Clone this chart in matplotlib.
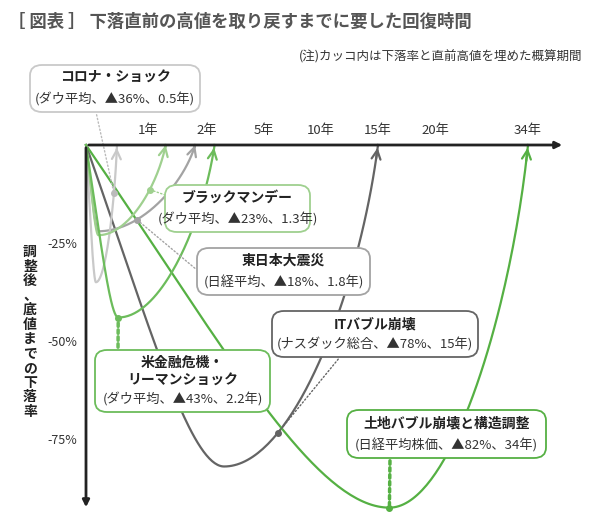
import numpy as np
import matplotlib
matplotlib.use("Agg")
import matplotlib.pyplot as plt
from matplotlib.patches import FancyBboxPatch

plt.rcParams['font.family'] = ['Noto Sans CJK JP', 'DejaVu Sans']

# ---- data ----
names = ["コロナ・ショック", "ブラックマンデー", "東日本大震災", "米金融危機・\nリーマンショック", "ITバブル崩壊", "土地バブル崩壊と構造調整"]
subs = ["(ダウ平均、▲36%、0.5年)", "(ダウ平均、▲23%、1.3年)", "(日経平均、▲18%、1.8年)",
        "(ダウ平均、▲43%、2.2年)", "(ナスダック総合、▲78%、15年)", "(日経平均株価、▲82%、34年)"]
recovery_years = [0.5, 1.3, 1.8, 2.4, 15, 34]
bottom_years = [0.16, 0.2, 0.2, 0.52, 2.9, 16]
drawn_depth = [-35, -23, -22, -44, -82, -92.5]
dot_years = [0.45, 1.03, 0.82, None, 6.2, None]   # marker positions on recovery leg
colors = ["#c9c9c9", "#9fd08f", "#a3a3a3", "#6cbc5b", "#646464", "#55b043"]
tick_years = [1, 2, 5, 10, 15, 20, 34]
tick_labels = ["1年", "2年", "5年", "10年", "15年", "20年", "34年"]
y_ticks = [-25, -50, -75]

# nonlinear axis knots (years -> axis units)
knot_y = np.array([0, 1, 2, 5, 10, 15, 20, 34, 40])
knot_u = np.array([0, 62, 121, 178, 235, 292, 349, 442, 482])
fwd = lambda x: np.interp(x, knot_y, knot_u)
inv = lambda u: np.interp(u, knot_u, knot_y)

W, H = 600, 524
fig = plt.figure(figsize=(6, 5.24), dpi=100)
ax = fig.add_axes([86 / W, 1 - 510 / H, (565 - 86) / W, (510 - 145) / H])
ax.set_xscale('function', functions=(fwd, inv))
ax.set_xlim(0, inv(479))
ax.set_ylim(-93.1, 0)
for s in ax.spines.values():
    s.set_visible(False)
ax.set_facecolor('none')

def bez(p0, p1, p2, p3, n=80):
    t = np.linspace(0, 1, n)[:, None]
    return ((1 - t) ** 3) * p0 + 3 * (1 - t) ** 2 * t * p1 + 3 * (1 - t) * t ** 2 * p2 + t ** 3 * p3

ascents = {}
order = [4, 5, 2, 0, 1, 3]
for i in order:
    um, ym, ue = fwd(bottom_years[i]), drawn_depth[i], fwd(recovery_years[i])
    P = [np.array(p, float) for p in [(0, 0), (0.45 * um, 0.55 * ym), (0.75 * um, ym), (um, ym)]]
    d = bez(*P)
    Q = [np.array(p, float) for p in [(um, ym), (um + 0.45 * (ue - um), ym), (ue - 0.12 * (ue - um), 0.45 * ym), (ue, 0)]]
    a = bez(*Q)
    ascents[i] = a
    pts = np.vstack([d, a[1:]])
    lw = 1.6
    ax.plot(inv(pts[:, 0]), pts[:, 1], color=colors[i], lw=lw, zorder=3, clip_on=False)
    ax.annotate("", xy=(inv(pts[-1, 0]), pts[-1, 1]), xytext=(inv(pts[-4, 0]), pts[-4, 1]),
                arrowprops=dict(arrowstyle='->', color=colors[i], lw=lw, mutation_scale=16), annotation_clip=False, zorder=3)

# axes arrows
ax.annotate("", xy=(inv(479), 0), xytext=(0, 0),
            arrowprops=dict(arrowstyle='-|>', color='#222', lw=2, mutation_scale=10), annotation_clip=False, zorder=5)
ax.annotate("", xy=(0, -93.1), xytext=(0, 0),
            arrowprops=dict(arrowstyle='-|>', color='#222', lw=2, mutation_scale=10), annotation_clip=False, zorder=5)

ax.xaxis.tick_top()
ax.set_xticks(tick_years)
ax.set_xticklabels(tick_labels, fontsize=9.5, color='#333')
ax.tick_params(axis='x', length=0, pad=6)
ax.set_yticks(y_ticks)
ax.set_yticklabels([f"{v}%" for v in y_ticks], fontsize=9, color='#333')
ax.tick_params(axis='y', length=0, pad=6)

def dot_line(xd, yd, px, py, color, lw=1, ls=':', ms=4):
    ax.plot([xd], [yd], 'o', color=color, ms=ms, zorder=4, clip_on=False)
    ax.annotate("", xy=(xd, yd), xytext=(px, H - py), textcoords='figure pixels',
                arrowprops=dict(arrowstyle='-', color=color, lw=lw, ls=ls), annotation_clip=False)

def on_ascent(i, yr):
    a = ascents[i]
    return yr, np.interp(fwd(yr), a[:, 0], a[:, 1])

box_pts = {0: (96, 112), 1: (168, 196), 2: (197, 270), 4: (340, 357)}
for i, bp in box_pts.items():
    xd, yd = on_ascent(i, dot_years[i])
    dot_line(xd, yd, bp[0], bp[1], colors[i] if i != 0 else '#bbbbbb')
dot_line(bottom_years[3], drawn_depth[3], 118, 350, colors[3], lw=2.5, ls=(0, (1, 1)))
dot_line(bottom_years[5], drawn_depth[5], 390, 458, colors[5], lw=2.5, ls=(0, (1, 1)))

# label boxes (pixel boxes)
boxes = [(30, 65, 200, 112), (165, 185, 310, 232), (197, 248, 370, 295),
         (95, 350, 270, 412), (272, 311, 478, 357), (347, 410, 546, 458)]
for i, (x0, y0, x1, y1) in enumerate(boxes):
    p = FancyBboxPatch((x0 / W, 1 - y1 / H), (x1 - x0) / W, (y1 - y0) / H,
                       boxstyle="round,pad=0,rounding_size=0.02", transform=fig.transFigure,
                       facecolor='white', edgecolor=colors[i], lw=1.3, zorder=6)
    fig.patches.append(p)
    cx = (x0 + x1) / 2
    fig.text(cx / W, 1 - (y0 + 6) / H, names[i], ha='center', va='top', fontsize=10,
             fontweight='bold', color='#222', linespacing=1.35, zorder=7)
    fig.text(cx / W, 1 - (y1 - 5) / H, subs[i], ha='center', va='bottom', fontsize=9.5,
             color='#333', zorder=7)

fig.text(8 / W, 1 - 22 / H, "［ 図表 ］ 下落直前の高値を取り戻すまでに要した回復時間", fontsize=12.5,
         fontweight='bold', color='#555', va='center')
fig.text(582 / W, 1 - 57 / H, "(注)カッコ内は下落率と直前高値を埋めた概算期間", fontsize=9,
         color='#333', ha='right', va='center')
fig.text(30 / W, 1 - 332 / H, "\n".join("調整後、底値までの下落率"), fontsize=10, fontweight='bold',
         color='#222', ha='center', va='center', linespacing=1.05)

fig.savefig("out.png", dpi=100)
